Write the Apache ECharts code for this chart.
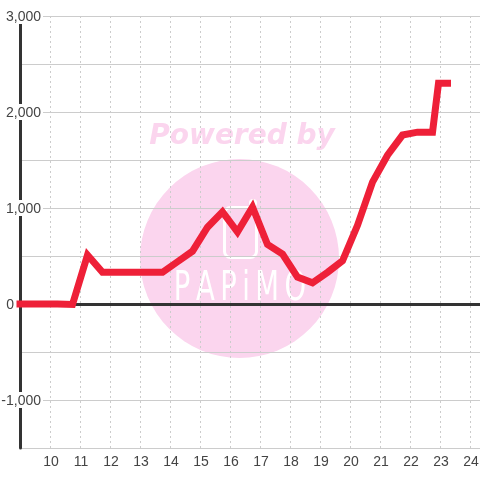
<!DOCTYPE html>
<html lang="en">
<head>
    <meta charset="UTF-8">
    <title></title>
    <style>html,body{margin:0;padding:0;background:#fff;}</style>
</head>
<body>
<div id="container" style="width:480px;height:480px;"></div>

<script src="https://cdn.jsdelivr.net/npm/echarts@6/dist/echarts.min.js"></script>
<script type="text/javascript">
// hours and values
var hours = [9, 9.75, 10.25, 10.75, 11.25, 11.75, 12.25, 12.75, 13.25, 13.75, 14.25, 14.75, 15.25, 15.75, 16.25, 16.75, 17.25, 17.75, 18.25, 18.75, 19.25, 19.75, 20.25, 20.75, 21.25, 21.75, 22.25, 22.75, 22.95, 23.25];
var values = [0, 0, 0, -5, 510, 330, 330, 330, 330, 330, 440, 550, 800, 960, 750, 1010, 620, 520, 280, 220, 330, 450, 820, 1270, 1550, 1760, 1790, 1790, 2300, 2300];
var yLabels = [-1000, 0, 1000, 2000, 3000];

var seriesData = [];
for (var i = 0; i < hours.length; i++) {
  seriesData.push([hours[i], values[i]]);
}

var myChart = echarts.init(document.getElementById('container'));
var option = {
  animation: false,
  textStyle: {fontFamily: 'Liberation Sans'},
  grid: {left: 20, right: 0, top: 16, bottom: 32, outerBoundsMode: 'none'},
  graphic: [
    // watermark, sits under the grid lines
    {type: 'circle', z: -1, shape: {cx: 239.5, cy: 258.5, r: 99.5}, style: {fill: '#fbd5ee'}},
    {type: 'text', z: -1, x: 242, y: 137, style: {text: 'Powered by', fill: '#fbd5ee', font: 'italic bold 28px "DejaVu Sans"', align: 'center', verticalAlign: 'middle'}},
    {type: 'rect', z: -1, shape: {x: 224.5, y: 207.5, width: 32, height: 50, r: 6}, style: {fill: 'none', stroke: '#fff', lineWidth: 3}},
    {type: 'circle', z: -1, shape: {cx: 253, cy: 203, r: 4}, style: {fill: '#fff'}},
    {type: 'text', z: -1, x: 240, y: 289, scaleX: 0.67, style: {text: 'P\u2009A\u2009P\u2009i\u2009M\u2009O', fill: '#fff', font: '41px "DejaVu Sans"', align: 'center', verticalAlign: 'middle'}}
  ],
  xAxis: {
    type: 'value',
    min: 9,
    max: 24.333,
    interval: 1,
    axisLine: {show: false},
    axisTick: {show: false},
    axisLabel: {color: '#444', fontSize: 14, margin: 7, padding: [0, 0, 0, 2], showMinLabel: false, showMaxLabel: false},
    splitLine: {show: true, lineStyle: {color: '#ccc', width: 1, type: [2, 3]}}
  },
  yAxis: {
    type: 'value',
    min: -1500,
    max: 3000,
    interval: 500,
    axisLine: {onZero: false, show: true, lineStyle: {color: '#333', width: 3}},
    axisTick: {show: false},
    axisLabel: {
      customValues: yLabels,
      margin: -23,
      align: 'right',
      formatter: function (v) {
        if (v == 0) return '{z|0}';
        return '{w|' + echarts.format.addCommas(v) + '}';
      },
      rich: {
        w: {color: '#444', fontSize: 14, lineHeight: 14, backgroundColor: '#fff', padding: [2, 2, 0, 2]},
        z: {color: '#444', fontSize: 14, lineHeight: 14, padding: [2, 29, 0, 0]}
      }
    },
    splitLine: {show: true, lineStyle: {color: '#ccc', width: 1}}
  },
  series: [
    {
      type: 'line',
      data: seriesData,
      symbol: 'none',
      lineStyle: {color: '#ee2038', width: 7, join: 'miter', cap: 'square'},
      z: 6,
      markLine: {
        silent: true,
        symbol: 'none',
        z: 5,
        label: {show: false},
        lineStyle: {color: '#333', width: 3, type: 'solid'},
        data: [{yAxis: 0}]
      }
    }
  ]
};
myChart.setOption(option);
</script>
</body>
</html>
